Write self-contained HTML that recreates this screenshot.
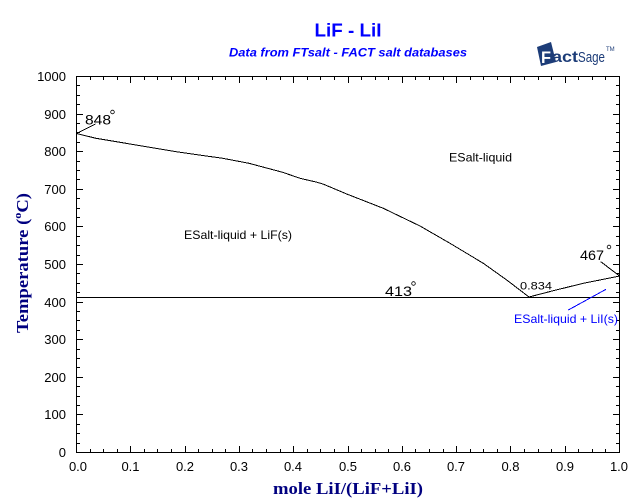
<!DOCTYPE html>
<html>
<head>
<meta charset="utf-8">
<style>
html,body{margin:0;padding:0;background:#fff;}
svg{display:block;}
text{font-family:"Liberation Sans",Arial,sans-serif;}
.serif{font-family:"Liberation Serif","Times New Roman",serif;}
</style>
</head>
<body>
<svg width="640" height="504" viewBox="0 0 640 504" xmlns="http://www.w3.org/2000/svg">
<rect width="640" height="504" fill="#fff"/>

<!-- Title -->
<text x="348" y="36.5" font-size="18" font-weight="bold" fill="#0000ff" text-anchor="middle" textLength="67" lengthAdjust="spacingAndGlyphs">LiF - LiI</text>
<text x="229" y="56.5" font-size="12" font-weight="bold" font-style="italic" fill="#0000ff" textLength="238" lengthAdjust="spacingAndGlyphs">Data from FTsalt - FACT salt databases</text>

<!-- FactSage logo -->
<g>
  <polygon points="537,47 551,42 556,62 541,66" fill="#1c3c78"/>
  <text x="541" y="63" font-size="17" font-weight="bold" fill="#ffffff" textLength="10" lengthAdjust="spacingAndGlyphs">F</text>
  <text x="552" y="62" font-size="16" font-weight="bold" fill="#1c3c78" textLength="26" lengthAdjust="spacingAndGlyphs">act</text>
  <text x="578" y="62" font-size="15" fill="#1c3c78" textLength="27" lengthAdjust="spacingAndGlyphs">Sage</text>
  <text x="606" y="51" font-size="6" fill="#1c3c78">TM</text>
</g>

<!-- Frame -->
<rect x="76.5" y="76.5" width="543" height="376" fill="none" stroke="#000" stroke-width="1" shape-rendering="crispEdges"/>

<!-- ticks -->
<g stroke="#000" stroke-width="1" fill="none" shape-rendering="crispEdges">
<path d="M76.5 452v-6 M90.5 452v-3 M103.5 452v-3 M117.5 452v-3 M130.5 452v-6 M144.5 452v-3 M157.5 452v-3 M171.5 452v-3 M185.5 452v-6 M198.5 452v-3 M212.5 452v-3 M225.5 452v-3 M239.5 452v-6 M252.5 452v-3 M266.5 452v-3 M280.5 452v-3 M293.5 452v-6 M307.5 452v-3 M320.5 452v-3 M334.5 452v-3 M348.5 452v-6 M361.5 452v-3 M375.5 452v-3 M388.5 452v-3 M402.5 452v-6 M415.5 452v-3 M429.5 452v-3 M443.5 452v-3 M456.5 452v-6 M470.5 452v-3 M483.5 452v-3 M497.5 452v-3 M510.5 452v-6 M524.5 452v-3 M538.5 452v-3 M551.5 452v-3 M565.5 452v-6 M578.5 452v-3 M592.5 452v-3 M605.5 452v-3 M619.5 452v-6"/>
<path d="M76.5 77v6 M90.5 77v3 M103.5 77v3 M117.5 77v3 M130.5 77v6 M144.5 77v3 M157.5 77v3 M171.5 77v3 M185.5 77v6 M198.5 77v3 M212.5 77v3 M225.5 77v3 M239.5 77v6 M252.5 77v3 M266.5 77v3 M280.5 77v3 M293.5 77v6 M307.5 77v3 M320.5 77v3 M334.5 77v3 M348.5 77v6 M361.5 77v3 M375.5 77v3 M388.5 77v3 M402.5 77v6 M415.5 77v3 M429.5 77v3 M443.5 77v3 M456.5 77v6 M470.5 77v3 M483.5 77v3 M497.5 77v3 M510.5 77v6 M524.5 77v3 M538.5 77v3 M551.5 77v3 M565.5 77v6 M578.5 77v3 M592.5 77v3 M605.5 77v3 M619.5 77v6"/>
<path d="M77 452.5h6 M77 443.5h3 M77 433.5h3 M77 424.5h3 M77 414.5h6 M77 405.5h3 M77 396.5h3 M77 386.5h3 M77 377.5h6 M77 367.5h3 M77 358.5h3 M77 349.5h3 M77 339.5h6 M77 330.5h3 M77 320.5h3 M77 311.5h3 M77 302.5h6 M77 292.5h3 M77 283.5h3 M77 273.5h3 M77 264.5h6 M77 255.5h3 M77 245.5h3 M77 236.5h3 M77 226.5h6 M77 217.5h3 M77 208.5h3 M77 198.5h3 M77 189.5h6 M77 179.5h3 M77 170.5h3 M77 161.5h3 M77 151.5h6 M77 142.5h3 M77 132.5h3 M77 123.5h3 M77 114.5h6 M77 104.5h3 M77 95.5h3 M77 85.5h3 M77 76.5h6"/>
<path d="M619 452.5h-6 M619 443.5h-3 M619 433.5h-3 M619 424.5h-3 M619 414.5h-6 M619 405.5h-3 M619 396.5h-3 M619 386.5h-3 M619 377.5h-6 M619 367.5h-3 M619 358.5h-3 M619 349.5h-3 M619 339.5h-6 M619 330.5h-3 M619 320.5h-3 M619 311.5h-3 M619 302.5h-6 M619 292.5h-3 M619 283.5h-3 M619 273.5h-3 M619 264.5h-6 M619 255.5h-3 M619 245.5h-3 M619 236.5h-3 M619 226.5h-6 M619 217.5h-3 M619 208.5h-3 M619 198.5h-3 M619 189.5h-6 M619 179.5h-3 M619 170.5h-3 M619 161.5h-3 M619 151.5h-6 M619 142.5h-3 M619 132.5h-3 M619 123.5h-3 M619 114.5h-6 M619 104.5h-3 M619 95.5h-3 M619 85.5h-3 M619 76.5h-6"/>
</g>

<!-- Y tick labels -->
<g font-size="13" fill="#000" text-anchor="end">
<text x="66" y="457">0</text>
<text x="66" y="419">100</text>
<text x="66" y="382">200</text>
<text x="66" y="344">300</text>
<text x="66" y="307">400</text>
<text x="66" y="269">500</text>
<text x="66" y="231">600</text>
<text x="66" y="194">700</text>
<text x="66" y="156">800</text>
<text x="66" y="119">900</text>
<text x="66" y="81">1000</text>
</g>

<!-- X tick labels -->
<g font-size="13" fill="#000" text-anchor="middle">
<text x="78" y="471">0.0</text>
<text x="130.5" y="471">0.1</text>
<text x="185" y="471">0.2</text>
<text x="239" y="471">0.3</text>
<text x="293" y="471">0.4</text>
<text x="348" y="471">0.5</text>
<text x="402" y="471">0.6</text>
<text x="456" y="471">0.7</text>
<text x="510.5" y="471">0.8</text>
<text x="565" y="471">0.9</text>
<text x="619" y="471">1.0</text>
</g>

<!-- Axis titles -->
<text class="serif" x="273" y="494" font-size="17" font-weight="bold" fill="#000080" textLength="150" lengthAdjust="spacingAndGlyphs">mole LiI/(LiF+LiI)</text>
<g transform="translate(28,333) rotate(-90)">
  <text class="serif" x="0" y="0" font-size="17" font-weight="bold" fill="#000080" textLength="140" lengthAdjust="spacingAndGlyphs">Temperature (<tspan font-size="11" dy="-7">o</tspan><tspan dy="7">C)</tspan></text>
</g>

<!-- Curves -->
<g fill="none" stroke="#000" stroke-width="1" shape-rendering="crispEdges">
<polyline points="76.5,133.5 96,138.3 126,143.3 176,151.7 222.7,158.3 249,163.3 282.7,172.3 300,178.3 316,182 323,184 346.7,194 383.3,208.3 420,226 450,243.3 483.3,263.3 506.7,280 529,297"/>
<polyline points="529,297 553.3,290.7 583.3,283.3 600,280 619.5,276"/>
<line x1="76.5" y1="297.5" x2="619.5" y2="297.5"/>
<line x1="76.5" y1="133.5" x2="95.5" y2="124"/>
<line x1="600.7" y1="261.7" x2="619.3" y2="275.7"/>
</g>
<line x1="568.3" y1="310" x2="606" y2="289.3" stroke="#0000ff" stroke-width="1" shape-rendering="crispEdges"/>

<!-- Labels in plot -->
<g font-size="12" fill="#000">
<text x="85" y="124.5" font-size="14" textLength="26" lengthAdjust="spacingAndGlyphs">848</text>
<circle cx="112.5" cy="112" r="1.8" fill="none" stroke="#000" stroke-width="0.8"/>
<text x="385" y="296" font-size="14" textLength="27" lengthAdjust="spacingAndGlyphs">413</text>
<circle cx="413.5" cy="283.5" r="1.8" fill="none" stroke="#000" stroke-width="0.8"/>
<text x="580" y="260" font-size="14" textLength="24" lengthAdjust="spacingAndGlyphs">467</text>
<circle cx="609" cy="247" r="1.8" fill="none" stroke="#000" stroke-width="0.8"/>
<text x="520" y="289.5" font-size="11" textLength="32" lengthAdjust="spacingAndGlyphs">0.834</text>
<text x="449" y="161.5" textLength="63" lengthAdjust="spacingAndGlyphs">ESalt-liquid</text>
<text x="184" y="239" textLength="108" lengthAdjust="spacingAndGlyphs">ESalt-liquid + LiF(s)</text>
<text x="514" y="323" fill="#0000ff" textLength="104" lengthAdjust="spacingAndGlyphs">ESalt-liquid + LiI(s)</text>
</g>
</svg>
</body>
</html>
